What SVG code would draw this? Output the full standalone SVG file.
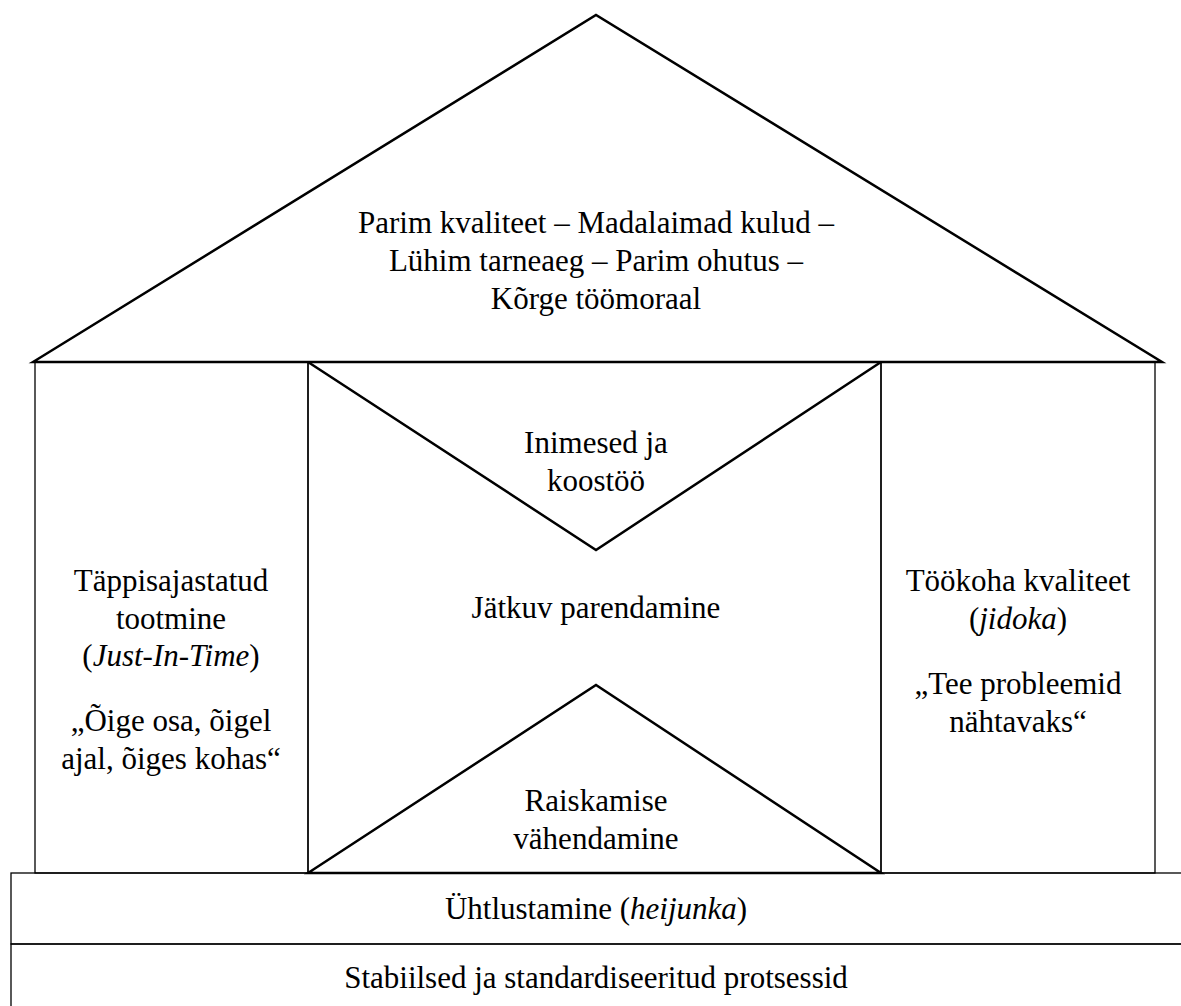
<svg xmlns="http://www.w3.org/2000/svg" width="1181" height="1006" viewBox="0 0 1181 1006">
<style>
text{font-family:'Liberation Serif','Times New Roman','DejaVu Serif',serif;font-size:31px;fill:#000;text-anchor:middle}
.i{font-style:italic}
.thin{fill:none;stroke:#000;stroke-width:1.3}
.thick{fill:none;stroke:#000;stroke-width:2.5}
</style>
<rect width="1181" height="1006" fill="#fff"/>
<g id="structure">
<rect class="thin" x="35" y="362" width="273" height="511"/>
<rect class="thin" x="308" y="362" width="573" height="511"/>
<rect class="thin" x="881" y="362" width="274" height="511"/>
<rect class="thin" x="11" y="873" width="1175" height="71"/>
<rect class="thin" x="11" y="944" width="1175" height="70"/>
</g>
<g id="roof">
<polygon class="thick" points="33,362 596,15 1162,362"/>
<text x="596" y="233">Parim kvaliteet – Madalaimad kulud –</text>
<text x="596" y="271">Lühim tarneaeg – Parim ohutus –</text>
<text x="596" y="309">Kõrge töömoraal</text>
</g>
<g id="people">
<polyline class="thick" points="308,362 596,550 881,362"/>
<text x="596" y="453">Inimesed ja</text>
<text x="596" y="491">koostöö</text>
</g>
<g id="kaizen">
<text x="596" y="618">Jätkuv parendamine</text>
</g>
<g id="waste">
<polygon class="thick" points="308,873 596,685 881,873"/>
<text x="596" y="811">Raiskamise</text>
<text x="596" y="849">vähendamine</text>
</g>
<g id="jit">
<text x="171" y="591">Täppisajastatud</text>
<text x="171" y="629">tootmine</text>
<text x="171" y="666">(<tspan class="i">Just-In-Time</tspan>)</text>
<text x="171" y="731">„Õige osa, õigel</text>
<text x="171" y="769">ajal, õiges kohas“</text>
</g>
<g id="jidoka">
<text x="1018" y="591">Töökoha kvaliteet</text>
<text x="1018" y="629">(<tspan class="i">jidoka</tspan>)</text>
<text x="1018" y="694">„Tee probleemid</text>
<text x="1018" y="732">nähtavaks“</text>
</g>
<g id="heijunka">
<text x="596" y="919">Ühtlustamine (<tspan class="i">heijunka</tspan>)</text>
</g>
<g id="stable">
<text x="596" y="988" font-size="32">Stabiilsed ja standardiseeritud protsessid</text>
</g>
</svg>
